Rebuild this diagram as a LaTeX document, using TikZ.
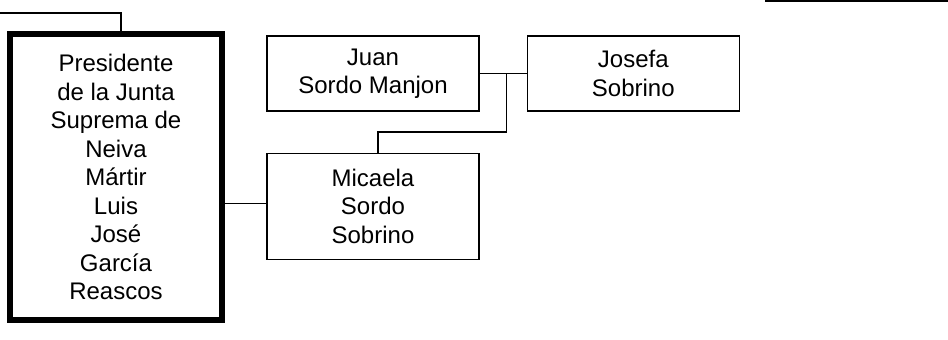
\documentclass[tikz,border=0pt]{standalone}
\usepackage{fontspec}
\setmainfont{Liberation Sans}
\usepackage{tikz}
\usetikzlibrary{positioning}
\tikzset{person/.style={rectangle,draw=black,line width=1.3pt,minimum width=212pt,minimum height=75pt,align=center,font=\fontsize{24}{28.5}\selectfont}}
\tikzset{principal/.style={person,line width=5.5pt,minimum height=286pt}}
\tikzset{link/.style={draw=black,line width=1.3pt}}

\begin{document}
\begin{tikzpicture}[x=1pt,y=1pt]
  \useasboundingbox (0,0) rectangle (948,340);
  \node[principal] (presidente) at (116,163) {Presidente\\de la Junta\\Suprema de\\Neiva\\M\'artir\\Luis\\Jos\'e\\Garc\'ia\\Reascos};
  \node[person] (juan) at (373,266.5) {Juan\\Sordo Manjon};
  \node[person,right=47pt of juan] (josefa) {Josefa\\Sobrino};
  \node[person,minimum height=106pt,below=41pt of juan] (micaela) {Micaela\\Sordo\\Sobrino};
  \node[principal,minimum height=100pt] (arriba) at (873.5,390.3) {};
  \coordinate[right=27pt of juan.east] (hijos);
  \coordinate (padre) at (-2,327);
  \draw[link] (juan) -- (josefa)
              (hijos) -- ++(0,-58.5) -| ([xshift=5pt]micaela.north)
              ([yshift=3pt]micaela.west) -- ([yshift=3pt]micaela.west -| presidente.east)
              ([xshift=5pt]presidente.north) |- (padre);
\end{tikzpicture}
\end{document}
